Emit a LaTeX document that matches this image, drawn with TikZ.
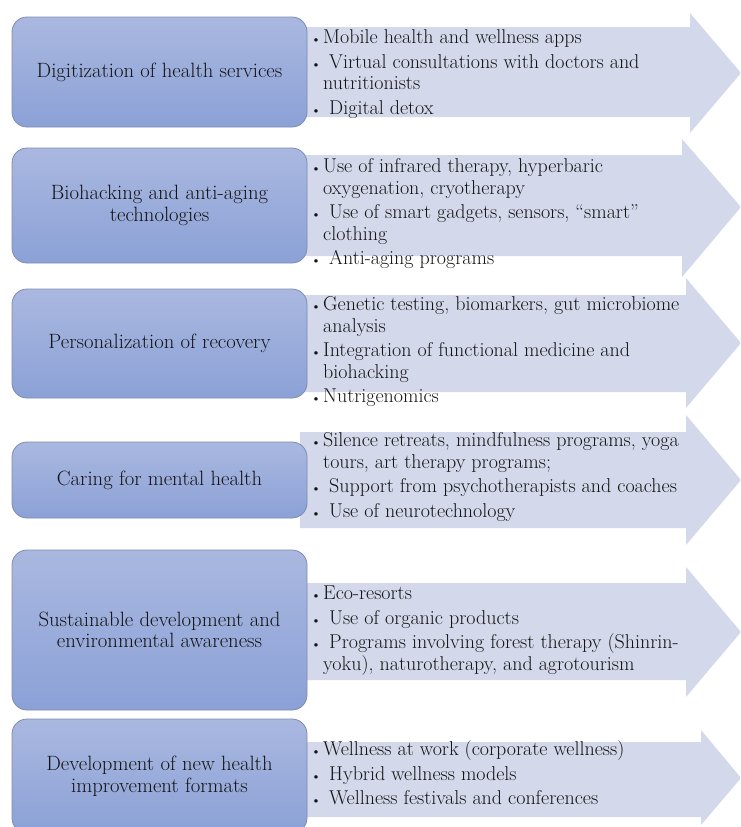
\documentclass[tikz,border=0pt]{standalone}
\usepackage{fontspec}
\definecolor{boxtop}{HTML}{AAB8E0}
\definecolor{boxbot}{HTML}{8BA1D6}
\definecolor{boxline}{HTML}{7D8CB0}
\definecolor{arrowfill}{HTML}{D3D8EA}
\definecolor{txt}{HTML}{141414}
\newcommand{\smbullet}{{\fontsize{13}{13}\selectfont\textbullet}}
\newcommand{\bul}{\makebox[12pt][l]{\smbullet}}
\newcommand{\bulsp}{\makebox[12pt][l]{\smbullet}\hspace{6pt}}
\newcommand{\hang}{\hspace*{12pt}}
\newcommand{\arrowshape}[6]{%
  % #1 body top, #2 body bottom, #3 head top, #4 head bottom, #5 head start x, #6 tip y
  \fill[arrowfill] (300,#1) -- (#5,#1) -- (#5,#3) -- (741,#6) -- (#5,#4) -- (#5,#2) -- (300,#2) -- cycle;}
\begin{document}
\begin{tikzpicture}[x=1pt,y=-1pt,
  lbox/.style={draw=boxline, line width=0.8pt, rounded corners=15pt, top color=boxtop, bottom color=boxbot, minimum width=295pt, inner sep=0pt},
  ltext/.style={align=center, text=txt, font=\fontsize{20.7}{21.5}\selectfont, inner sep=0pt},
  rtext/.style={anchor=north west, align=left, text=txt, font=\fontsize{20}{21.5}\selectfont, inner sep=0pt}]
\useasboundingbox (0,0) rectangle (740,827);
\begin{scope}
\clip (0,0) rectangle (740,827);
% arrows
\arrowshape{27}{117}{13}{133}{690}{73}
\arrowshape{155}{256}{139}{277}{682}{207}
\arrowshape{295}{392}{278}{408}{686}{343}
\arrowshape{432}{528}{415}{545}{686}{480}
\arrowshape{583}{680}{567}{697}{686}{632}
\arrowshape{742}{817}{730}{825}{701}{778}
% left boxes
\node[lbox, minimum height=110pt] (b1) at (159.5,72) {};
\node[lbox, minimum height=115pt] (b2) at (159.5,205.5) {};
\node[lbox, minimum height=109pt] (b3) at (159.5,343.5) {};
\node[lbox, minimum height=76pt] (b4) at (159.5,480) {};
\node[lbox, minimum height=160pt] (b5) at (159.5,630) {};
\node[lbox, minimum height=114pt] (b6) at (159.5,776) {};
\end{scope}
\node[ltext] (t1) at (b1) {Digitization of health services};
\node[ltext] (t2) at (b2) {Biohacking and anti-aging\\technologies};
\node[ltext] (t3) at (b3) {Personalization of recovery};
\node[ltext] (t4) at (b4) {Caring for mental health};
\node[ltext] (t5) at (b5) {Sustainable development and\\environmental awareness};
\node[ltext] (t6) at (b6) {Development of new health\\improvement formats};
% right texts
\node[rtext] (r1) at (311,28.5) {\strut\bul Mobile health and wellness apps\\[3pt]
\bulsp Virtual consultations with doctors and\\
\hang nutritionists\\[3pt]
\bulsp Digital detox};
\node[rtext] (r2) at (311,157.5) {\strut\bul Use of infrared therapy, hyperbaric\\
\hang oxygenation, cryotherapy\\[3pt]
\bulsp Use of smart gadgets, sensors, ``smart''\\
\hang clothing\\[3pt]
\bulsp Anti-aging programs};
\node[rtext] (r3) at (311,295.5) {\strut\bul Genetic testing, biomarkers, gut microbiome\\
\hang analysis\\[3pt]
\bul Integration of functional medicine and\\
\hang biohacking\\[3pt]
\bul Nutrigenomics};
\node[rtext] (r4) at (311,431.5) {\strut\bul Silence retreats, mindfulness programs, yoga\\
\hang tours, art therapy programs;\\[3pt]
\bulsp Support from psychotherapists and coaches\\[3pt]
\bulsp Use of neurotechnology};
\node[rtext] (r5) at (311,584.5) {\strut\bul Eco-resorts\\[3pt]
\bulsp Use of organic products\\[3pt]
\bulsp Programs involving forest therapy (Shinrin-\\
\hang yoku), naturotherapy, and agrotourism};
\node[rtext] (r6) at (311,740.5) {\strut\bul Wellness at work (corporate wellness)\\[3pt]
\bulsp Hybrid wellness models\\[3pt]
\bulsp Wellness festivals and conferences};
\end{tikzpicture}
\end{document}
